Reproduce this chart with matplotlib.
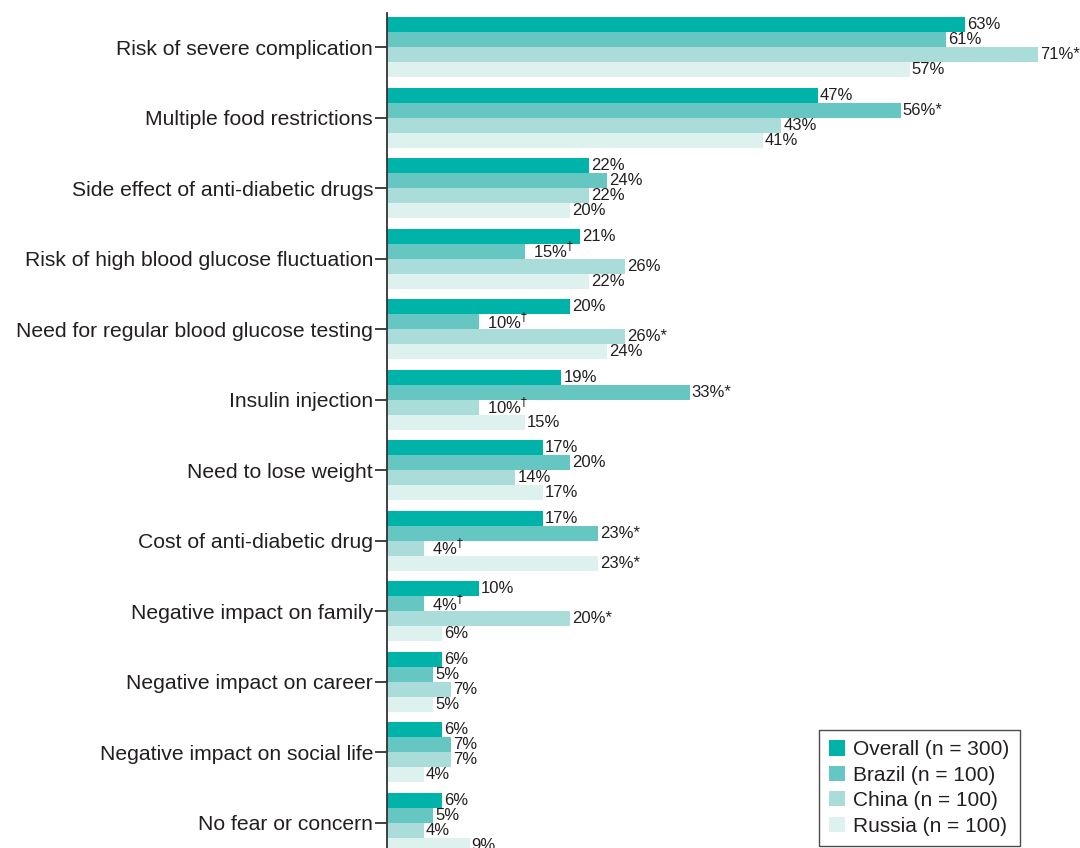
import matplotlib
matplotlib.use("Agg")
import matplotlib.pyplot as plt
import numpy as np

plt.rcParams["font.family"] = ["Liberation Sans", "DejaVu Sans"]

CATEGORIES = [
    "Risk of severe complication",
    "Multiple food restrictions",
    "Side effect of anti-diabetic drugs",
    "Risk of high blood glucose fluctuation",
    "Need for regular blood glucose testing",
    "Insulin injection",
    "Need to lose weight",
    "Cost of anti-diabetic drug",
    "Negative impact on family",
    "Negative impact on career",
    "Negative impact on social life",
    "No fear or concern",
]

SERIES = ["Overall (n = 300)", "Brazil (n = 100)", "China (n = 100)", "Russia (n = 100)"]

overall = [63, 47, 22, 21, 20, 19, 17, 17, 10, 6, 6, 6]
brazil = [61, 56, 24, 15, 10, 33, 20, 23, 4, 5, 7, 5]
china = [71, 43, 22, 26, 26, 10, 14, 4, 20, 7, 7, 4]
russia = [57, 41, 20, 22, 24, 15, 17, 23, 6, 5, 4, 9]

# significance marks: "*" higher, "†" lower
brazil_marks = ["", "*", "", "†", "†", "*", "", "*", "†", "", "", ""]
china_marks = ["*", "", "", "", "*", "†", "", "†", "*", "", "", ""]
russia_marks = ["", "", "", "", "", "", "", "*", "", "", "", ""]
overall_marks = [""] * len(CATEGORIES)

COLORS = ["#00b3a9", "#66c6c1", "#aaddda", "#ddf1ee"]
TEXT_COLOR = "#231f20"


def main() -> None:
    fig = plt.figure(figsize=(10.8, 8.48), dpi=100)
    ax = fig.add_axes([387 / 1080, 0.0, 1 - 387 / 1080, (848 - 13) / 848])

    values = [overall, brazil, china, russia]
    marks = [overall_marks, brazil_marks, china_marks, russia_marks]
    bar_h = 15 / 70.5
    y = np.arange(len(CATEGORIES))

    for k, (vals, mk, color, name) in enumerate(zip(values, marks, COLORS, SERIES)):
        ys = y + (k - 1.5) * bar_h
        ax.barh(ys, vals, height=bar_h, color=color, label=name, linewidth=0)
        for yy, v, m in zip(ys, vals, mk):
            offset = 6 if m == "†" else 1.5
            label = f"{v}%" + (f"$^{{{m}}}$" if m == "†" else m)
            ax.annotate(
                label,
                xy=(v, yy),
                xytext=(offset, 0),
                textcoords="offset points",
                va="center",
                ha="left",
                fontsize=12,
                color=TEXT_COLOR,
            )

    # first bar starts ~4px below the top of the spine
    top = -2 * bar_h - 4 / 70.5
    ax.set_ylim(top + (848 - 13) / 70.5, top)
    ax.set_xlim(0, (1080 - 387) / 9.17)

    ax.set_yticks(y)
    ax.set_yticklabels(CATEGORIES, fontsize=15.2, color=TEXT_COLOR)
    ax.set_xticks([])
    for side in ["top", "right", "bottom"]:
        ax.spines[side].set_visible(False)
    ax.spines["left"].set_color("#333333")
    ax.spines["left"].set_linewidth(1.3)
    ax.tick_params(axis="y", length=8.5, width=1.3, color="#333333", pad=1.5)

    leg = ax.legend(
        loc="lower right",
        bbox_to_anchor=(1020 / 1080, 2 / 848),
        bbox_transform=fig.transFigure,
        fontsize=15,
        frameon=True,
        fancybox=False,
        edgecolor="#231f20",
        handlelength=0.75,
        handleheight=0.75,
        handletextpad=0.4,
        labelspacing=0.31,
        borderpad=0.5,
        borderaxespad=0,
    )
    leg.get_frame().set_linewidth(1.0)
    for t in leg.get_texts():
        t.set_color(TEXT_COLOR)

    fig.savefig("out.png", dpi=100)


if __name__ == "__main__":
    main()
